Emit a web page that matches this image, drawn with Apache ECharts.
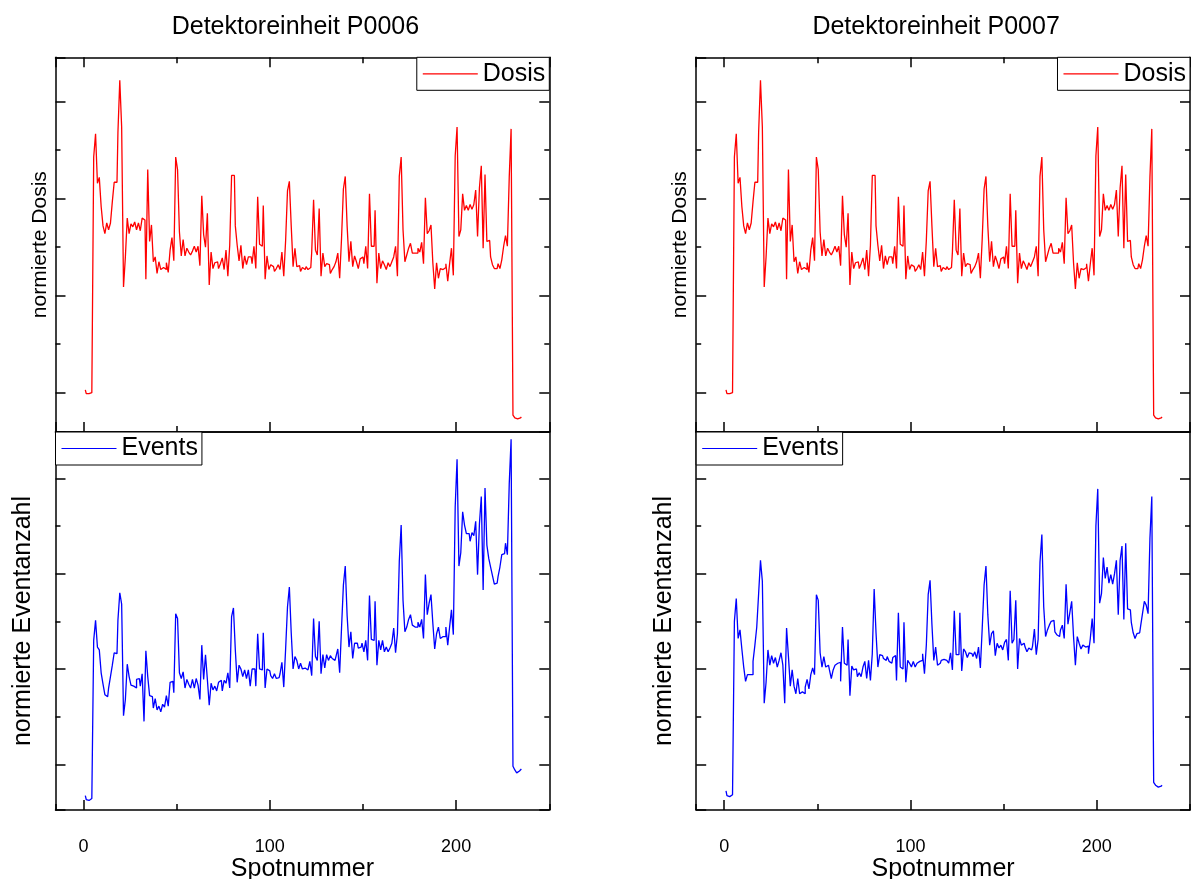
<!DOCTYPE html>
<html>
<head>
<meta charset="utf-8">
<title>Detektoreinheit P0006 / P0007</title>
<script src="https://cdn.jsdelivr.net/npm/echarts@6/dist/echarts.min.js"></script>
<style>
html, body { margin: 0; padding: 0; background: #fff; }
#main { width: 1193px; height: 879px; }
</style>
</head>
<body>
<div id="main"></div>
<script>
// one value per spot, Spotnummer 1..235
var dosisP0006 = [
  0.03, -0.01, -0.01, 0.00, 0.02, 2.43, 2.67, 2.16, 2.22, 1.92,
  1.72, 1.64, 1.75, 1.68, 1.75, 1.97, 2.17, 2.17, 2.68, 3.22,
  2.74, 1.09, 1.40, 1.80, 1.64, 1.74, 1.71, 1.76, 1.68, 1.75,
  1.67, 1.80, 1.78, 1.17, 2.30, 1.56, 1.73, 1.35, 1.40, 1.23,
  1.35, 1.27, 1.29, 1.27, 1.34, 1.24, 1.47, 1.60, 1.36, 2.43,
  2.30, 1.66, 1.41, 1.58, 1.41, 1.49, 1.45, 1.42, 1.46, 1.51,
  1.45, 1.51, 1.31, 2.03, 1.63, 1.50, 1.85, 1.11, 1.45, 1.28,
  1.34, 1.35, 1.28, 1.33, 1.39, 1.27, 1.47, 1.20, 1.52, 2.24,
  2.24, 1.72, 1.52, 1.36, 1.52, 1.28, 1.41, 1.32, 1.40, 1.40,
  1.33, 1.51, 1.28, 2.02, 1.53, 1.51, 1.93, 1.17, 1.41, 1.27,
  1.32, 1.30, 1.25, 1.28, 1.32, 1.27, 1.45, 1.20, 1.57, 2.08,
  2.18, 1.72, 1.30, 1.49, 1.30, 1.31, 1.25, 1.29, 1.27, 1.30,
  1.27, 1.29, 1.45, 1.99, 1.47, 1.42, 1.90, 1.20, 1.44, 1.30,
  1.33, 1.32, 1.23, 1.27, 1.30, 1.35, 1.44, 1.18, 1.59, 2.10,
  2.23, 1.72, 1.35, 1.56, 1.30, 1.41, 1.35, 1.28, 1.38, 1.40,
  1.33, 1.51, 1.28, 2.05, 1.51, 1.51, 1.88, 1.13, 1.44, 1.28,
  1.36, 1.32, 1.27, 1.34, 1.30, 1.35, 1.40, 1.51, 1.20, 2.23,
  2.43, 1.68, 1.35, 1.42, 1.49, 1.54, 1.44, 1.44, 1.44, 1.49,
  1.45, 1.55, 1.33, 2.01, 1.64, 1.67, 1.73, 1.34, 1.07, 1.34,
  1.18, 1.28, 1.27, 1.29, 1.33, 1.15, 1.33, 1.49, 1.21, 2.44,
  2.74, 1.61, 1.68, 2.05, 1.88, 1.93, 1.88, 1.94, 1.89, 1.94,
  2.09, 1.61, 2.11, 2.34, 1.49, 2.25, 1.56, 1.57, 1.40, 1.32,
  1.28, 1.28, 1.33, 1.28, 1.37, 1.51, 1.62, 1.51, 2.22, 2.72,
  -0.23, -0.26, -0.27, -0.26, -0.25
];

var eventsP0006 = [
  -0.33, -0.37, -0.38, -0.36, -0.36, 1.30, 1.51, 1.23, 1.20, 0.96,
  0.84, 0.73, 0.71, 0.80, 0.92, 1.04, 1.17, 1.16, 1.51, 1.80,
  1.68, 0.51, 0.68, 1.05, 0.92, 0.83, 0.82, 0.80, 0.89, 0.90,
  0.82, 0.95, 0.45, 1.19, 0.92, 0.72, 0.71, 0.59, 0.69, 0.57,
  0.61, 0.55, 0.63, 0.60, 0.72, 0.61, 0.86, 0.87, 0.75, 1.58,
  1.53, 0.96, 0.90, 0.97, 0.80, 0.89, 0.84, 0.80, 0.89, 0.80,
  0.90, 0.83, 0.68, 1.25, 0.89, 1.15, 0.89, 0.62, 0.85, 0.78,
  0.82, 0.77, 0.86, 0.88, 0.77, 0.88, 0.85, 0.96, 0.80, 1.55,
  1.64, 1.20, 0.86, 1.04, 1.00, 0.92, 0.99, 0.90, 0.99, 0.82,
  1.00, 1.00, 0.82, 1.37, 1.00, 0.99, 1.38, 0.80, 1.00, 0.98,
  0.93, 0.90, 0.95, 0.90, 0.91, 0.95, 1.07, 0.81, 1.21, 1.65,
  1.86, 1.38, 1.00, 1.13, 1.09, 1.00, 1.06, 1.00, 1.01, 0.99,
  0.98, 1.08, 0.93, 1.53, 1.13, 1.09, 1.50, 0.95, 1.15, 1.01,
  1.15, 1.09, 1.14, 1.11, 1.09, 1.13, 1.21, 0.96, 1.43, 1.88,
  2.08, 1.56, 1.23, 1.39, 1.11, 1.27, 1.27, 1.22, 1.23, 1.27,
  1.18, 1.30, 1.09, 1.77, 1.31, 1.30, 1.71, 1.04, 1.30, 1.20,
  1.30, 1.18, 1.23, 1.18, 1.22, 1.27, 1.43, 1.17, 1.37, 2.13,
  2.51, 1.72, 1.39, 1.44, 1.52, 1.57, 1.46, 1.44, 1.44, 1.49,
  1.44, 1.52, 1.32, 1.99, 1.57, 1.69, 1.78, 1.48, 1.21, 1.37,
  1.44, 1.32, 1.34, 1.34, 1.44, 1.25, 1.44, 1.62, 1.36, 2.70,
  3.20, 2.08, 2.22, 2.65, 2.51, 2.42, 2.42, 2.34, 2.43, 2.40,
  2.55, 1.99, 2.52, 2.81, 1.83, 2.90, 2.30, 2.16, 2.07, 1.98,
  1.89, 1.90, 1.97, 2.07, 2.20, 2.21, 2.32, 2.20, 2.94, 3.41,
  -0.02, -0.06, -0.09, -0.07, -0.05
];

var dosisP0007 = [
  0.03, -0.01, -0.01, 0.00, 0.02, 2.43, 2.67, 2.16, 2.22, 1.92,
  1.72, 1.64, 1.75, 1.68, 1.75, 1.97, 2.17, 2.17, 2.68, 3.22,
  2.74, 1.09, 1.40, 1.80, 1.64, 1.74, 1.71, 1.76, 1.68, 1.75,
  1.67, 1.80, 1.78, 1.17, 2.30, 1.56, 1.73, 1.35, 1.40, 1.23,
  1.35, 1.27, 1.29, 1.27, 1.34, 1.24, 1.47, 1.60, 1.36, 2.43,
  2.30, 1.66, 1.41, 1.58, 1.41, 1.49, 1.45, 1.42, 1.46, 1.51,
  1.45, 1.51, 1.31, 2.03, 1.63, 1.50, 1.85, 1.11, 1.45, 1.28,
  1.34, 1.35, 1.28, 1.33, 1.39, 1.27, 1.47, 1.20, 1.52, 2.24,
  2.24, 1.72, 1.52, 1.36, 1.52, 1.28, 1.41, 1.32, 1.40, 1.40,
  1.33, 1.51, 1.28, 2.02, 1.53, 1.51, 1.93, 1.17, 1.41, 1.27,
  1.32, 1.30, 1.25, 1.28, 1.32, 1.27, 1.45, 1.20, 1.57, 2.08,
  2.18, 1.72, 1.30, 1.49, 1.30, 1.31, 1.25, 1.29, 1.27, 1.30,
  1.27, 1.29, 1.45, 1.99, 1.47, 1.42, 1.90, 1.20, 1.44, 1.30,
  1.33, 1.32, 1.23, 1.27, 1.30, 1.35, 1.44, 1.18, 1.59, 2.10,
  2.23, 1.72, 1.35, 1.56, 1.30, 1.41, 1.35, 1.28, 1.38, 1.40,
  1.33, 1.51, 1.28, 2.05, 1.51, 1.51, 1.88, 1.13, 1.44, 1.28,
  1.36, 1.32, 1.27, 1.34, 1.30, 1.35, 1.40, 1.51, 1.20, 2.23,
  2.43, 1.68, 1.35, 1.42, 1.49, 1.54, 1.44, 1.44, 1.44, 1.49,
  1.45, 1.55, 1.33, 2.01, 1.64, 1.67, 1.73, 1.34, 1.07, 1.34,
  1.18, 1.28, 1.27, 1.29, 1.33, 1.15, 1.33, 1.49, 1.21, 2.44,
  2.74, 1.61, 1.68, 2.05, 1.88, 1.93, 1.88, 1.94, 1.89, 1.94,
  2.09, 1.61, 2.11, 2.34, 1.49, 2.25, 1.56, 1.57, 1.40, 1.32,
  1.28, 1.28, 1.33, 1.28, 1.37, 1.51, 1.62, 1.51, 2.22, 2.72,
  -0.23, -0.26, -0.27, -0.26, -0.25
];

var eventsP0007 = [
  -0.28, -0.33, -0.34, -0.32, -0.31, 1.50, 1.74, 1.32, 1.41, 1.21,
  1.02, 0.87, 0.94, 0.94, 0.94, 1.08, 1.25, 1.44, 1.79, 2.14,
  1.92, 0.64, 0.86, 1.20, 1.04, 1.14, 1.06, 1.12, 1.02, 1.09,
  1.17, 1.04, 0.64, 1.43, 1.13, 0.82, 0.99, 0.82, 0.74, 0.90,
  0.74, 0.76, 0.74, 0.81, 0.89, 0.79, 0.94, 1.01, 0.94, 1.78,
  1.72, 1.17, 1.02, 1.13, 1.02, 1.04, 0.99, 0.90, 0.99, 1.04,
  1.06, 1.07, 0.87, 1.44, 1.06, 1.04, 1.31, 0.72, 1.03, 0.99,
  1.00, 0.92, 0.96, 0.92, 1.02, 1.08, 0.90, 1.09, 0.88, 1.16,
  1.84, 1.38, 1.02, 1.15, 1.14, 1.11, 1.09, 1.13, 1.08, 1.06,
  1.12, 1.14, 0.88, 1.59, 1.02, 1.00, 1.49, 0.86, 1.09, 1.06,
  1.02, 1.08, 1.02, 1.06, 1.08, 1.09, 1.16, 0.95, 1.25, 1.78,
  1.93, 1.47, 1.09, 1.23, 1.04, 1.06, 1.09, 1.10, 1.09, 1.08,
  1.06, 1.17, 0.99, 1.61, 1.15, 1.15, 1.59, 0.98, 1.21, 1.18,
  1.12, 1.17, 1.16, 1.13, 1.18, 1.11, 1.23, 1.01, 1.43, 1.88,
  2.08, 1.57, 1.25, 1.37, 1.40, 1.14, 1.27, 1.22, 1.25, 1.20,
  1.28, 1.31, 1.09, 1.82, 1.27, 1.31, 1.72, 1.00, 1.32, 1.25,
  1.27, 1.23, 1.18, 1.22, 1.20, 1.24, 1.42, 1.15, 1.31, 2.12,
  2.41, 1.65, 1.34, 1.41, 1.46, 1.50, 1.51, 1.39, 1.36, 1.34,
  1.41, 1.46, 1.32, 1.89, 1.47, 1.59, 1.71, 1.34, 1.04, 1.34,
  1.27, 1.21, 1.25, 1.23, 1.24, 1.16, 1.32, 1.53, 1.27, 2.50,
  2.89, 1.69, 1.79, 2.17, 1.95, 2.07, 1.90, 1.99, 1.89, 2.00,
  2.14, 1.57, 2.14, 2.29, 1.52, 2.32, 1.63, 1.62, 1.49, 1.38,
  1.32, 1.37, 1.38, 1.45, 1.58, 1.71, 1.67, 1.58, 2.37, 2.81,
  -0.19, -0.22, -0.24, -0.23, -0.22
];

var xTickLabels = [0, 100, 200];
var titles = ['Detektoreinheit P0006', 'Detektoreinheit P0007'];

var FONT = '"Liberation Sans", Arial, sans-serif';
var COL_LEFT = [55.5, 696.2];
var PANEL_W = 493.8;
var TOP_Y = 57.3, MID_Y = 432, BOT_Y = 810;
var X_MIN = -15, X_MAX = 250;

var grids = [], xAxes = [], yAxes = [], series = [], legends = [];

function toPoints(arr) {
    return arr.map(function (v, i) { return [i + 1, v]; });
}

function axis(g, pos, min, max, step, tickLen, line) {
    return {
        type: 'value', gridIndex: g, position: pos,
        min: min, max: max, minInterval: step, maxInterval: step,
        axisLine: { show: line, onZero: false, lineStyle: { color: '#000', width: 1.5 } },
        axisTick: { show: tickLen > 0, inside: true, length: tickLen,
                    lineStyle: { color: '#000', width: 1.5 } },
        axisLabel: { show: false },
        splitLine: { show: false }
    };
}

function addPanel(col, isTop, values, name, color, yMin, yMax, yName, yNameSize, yNameGap) {
    var g = grids.length;
    var top = isTop ? TOP_Y : MID_Y;
    var bottom = isTop ? MID_Y : BOT_Y;
    grids.push({ left: COL_LEFT[col], top: top, width: PANEL_W, height: bottom - top,
                 containLabel: false, outerBoundsMode: 'none' });

    var xi = xAxes.length;
    var xb = axis(g, 'bottom', X_MIN, X_MAX, 100, 10, true);
    if (!isTop) {
        xb.axisLabel = {
            show: true, margin: 28, fontSize: 18, color: '#000', fontFamily: FONT,
            showMinLabel: false, showMaxLabel: false,
            formatter: function (v) { return xTickLabels.indexOf(v) >= 0 ? String(v) : ''; }
        };
        xb.name = 'Spotnummer';
        xb.nameLocation = 'middle';
        xb.nameGap = 42;
        xb.nameTextStyle = { fontSize: 25, color: '#000', fontFamily: FONT };
    }
    xAxes.push(xb);
    xAxes.push(axis(g, 'bottom', X_MIN, X_MAX, 50, 6, false));
    xAxes.push(axis(g, 'top', X_MIN, X_MAX, 100, isTop ? 10 : 0, true));
    xAxes.push(axis(g, 'top', X_MIN, X_MAX, 50, isTop ? 6 : 0, false));

    var yi = yAxes.length;
    var yl = axis(g, 'left', yMin, yMax, 1, 10, true);
    yl.name = yName;
    yl.nameLocation = 'middle';
    yl.nameGap = yNameGap;
    yl.nameTextStyle = { fontSize: yNameSize, color: '#000', fontFamily: FONT };
    yAxes.push(yl);
    yAxes.push(axis(g, 'left', yMin, yMax, 0.5, 5, false));
    yAxes.push(axis(g, 'right', yMin, yMax, 1, 10, true));
    yAxes.push(axis(g, 'right', yMin, yMax, 0.5, 5, false));

    series.push({
        name: name, type: 'line', xAxisIndex: xi, yAxisIndex: yi,
        step: 'middle', symbol: 'none', showSymbol: false,
        lineStyle: { color: color, width: 1.3 }, itemStyle: { color: color },
        data: toPoints(values)
    });

    var lg = {
        data: [name], orient: 'horizontal', selectedMode: false,
        icon: 'rect', itemWidth: 55, itemHeight: 1.2, itemGap: 0,
        backgroundColor: '#fff', borderColor: '#000', borderWidth: 1, borderRadius: 0,
        padding: [4, 4, 4, 6],
        textStyle: { fontSize: 25, color: '#000', fontFamily: FONT }
    };
    if (isTop) {
        lg.right = 1193 - (COL_LEFT[col] + PANEL_W);
        lg.top = TOP_Y;
    } else {
        lg.left = COL_LEFT[col];
        lg.top = MID_Y;
    }
    legends.push(lg);
}

addPanel(0, true, dosisP0006, 'Dosis', '#ff0000', -0.405, 3.458, 'normierte Dosis', 21, 5);
addPanel(0, false, eventsP0006, 'Events', '#0000ff', -0.48, 3.487, 'normierte Eventanzahl', 25, 20);
addPanel(1, true, dosisP0007, 'Dosis', '#ff0000', -0.405, 3.458, 'normierte Dosis', 21, 5);
addPanel(1, false, eventsP0007, 'Events', '#0000ff', -0.48, 3.487, 'normierte Eventanzahl', 25, 20);

var chart = echarts.init(document.getElementById('main'));
chart.setOption({
    backgroundColor: '#fff',
    animation: false,
    title: titles.map(function (t, i) {
        return {
            text: t, left: COL_LEFT[i] + PANEL_W / 2 - 7, top: 15, padding: 0,
            textAlign: 'center',
            textStyle: { fontSize: 25, fontWeight: 'normal', color: '#000', fontFamily: FONT }
        };
    }),
    legend: legends,
    grid: grids,
    xAxis: xAxes,
    yAxis: yAxes,
    series: series
});
</script>
</body>
</html>
